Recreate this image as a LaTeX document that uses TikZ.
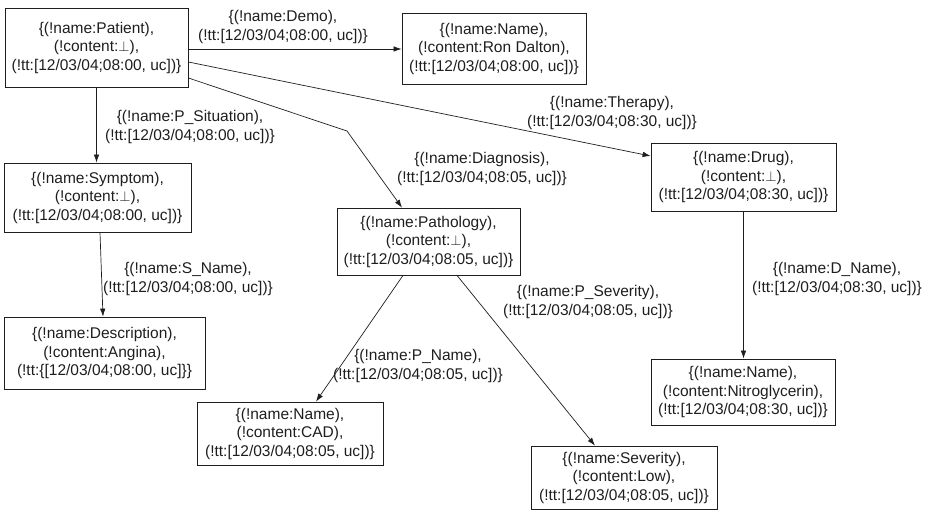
\documentclass[tikz,border=0pt]{standalone}
\usepackage{fontspec}
\setmainfont{Liberation Sans}
\usetikzlibrary{arrows.meta}
\definecolor{ink}{HTML}{1E1E1E}
\tikzset{
  box/.style={draw=ink, line width=0.8pt, align=center, inner sep=0pt, text=ink,
    font=\fontsize{15.5pt}{18.5pt}\selectfont},
  lbl/.style={align=center, inner sep=0pt, text=ink,
    font=\fontsize{15.5pt}{18.5pt}\selectfont},
  arr/.style={draw=ink, line width=0.7pt, -{Latex[length=8pt,width=5.5pt]}}
}
\begin{document}
\begin{tikzpicture}[x=1pt,y=-1pt]
\useasboundingbox (0,0) rectangle (931,511);
% nodes
\node[box, minimum width=183pt, minimum height=79pt] (pat) at (96.5,47.5)
  {\{(!name:Patient),\\(!content:$\perp$),\\(!tt:[12/03/04;08:00, uc])\}};
\node[box, minimum width=184pt, minimum height=71pt] (nm1) at (494,48.5)
  {\{(!name:Name),\\(!content:Ron Dalton),\\(!tt:[12/03/04;08:00, uc])\}};
\node[box, minimum width=185pt, minimum height=68pt] (drug) at (743.5,177)
  {\{(!name:Drug),\\(!content:$\perp$),\\(!tt:[12/03/04;08:30, uc])\}};
\node[box, minimum width=187pt, minimum height=69pt] (sym) at (97.5,197.5)
  {\{(!name:Symptom),\\(!content:$\perp$),\\(!tt:[12/03/04;08:00, uc])\}};
\node[box, minimum width=201pt, minimum height=72pt] (desc) at (104.5,353)
  {\{(!name:Description),\\(!content:Angina),\\(!tt:\{[12/03/04;08:00, uc]\}\}};
\node[box, minimum width=183pt, minimum height=67pt] (path) at (428.5,241.5)
  {\{(!name:Pathology),\\(!content:$\perp$),\\(!tt:[12/03/04;08:05, uc])\}};
\node[box, minimum width=186pt, minimum height=63pt] (cad) at (290,433.5)
  {\{(!name:Name),\\(!content:CAD),\\(!tt:[12/03/04;08:05, uc])\}};
\node[box, minimum width=186pt, minimum height=63pt] (sev) at (624,477.5)
  {\{(!name:Severity),\\(!content:Low),\\(!tt:[12/03/04;08:05, uc])\}};
\node[box, minimum width=184pt, minimum height=66pt] (nitro) at (743,392)
  {\{(!name:Name),\\(!content:Nitroglycerin),\\(!tt:[12/03/04;08:30, uc])\}};
% edges
\draw[arr] ([yshift=-1.5pt]pat.east) -- ([yshift=-1.5pt]pat.east -| nm1.west);
\draw[arr] ([yshift=-14.5pt]pat.east) -- ([yshift=21pt]drug.west);
\coordinate (bend) at (347,131);
\draw[arr] ([yshift=-30.5pt]pat.east) -- (bend) -- ([xshift=-26.5pt]path.north);
\draw[arr] (pat.south) -- (pat.south |- sym.north);
\draw[arr] ([xshift=2.5pt]sym.south) -- ([xshift=-1.5pt]desc.north);
\draw[arr] ([xshift=-25.5pt]path.south) -- ([xshift=26pt]cad.north);
\draw[arr] ([xshift=28.5pt]path.south) -- ([xshift=-29pt]sev.north);
\draw[arr] (drug.south) -- (drug.south |- nitro.north);
% labels
\node[lbl] (l1) at (283,27) {\{(!name:Demo),\\(!tt:[12/03/04;08:00, uc])\}};
\node[lbl] (l2) at (612,113) {\{(!name:Therapy),\\(!tt:[12/03/04;08:30, uc])\}};
\node[lbl] (l3) at (482,169) {\{(!name:Diagnosis),\\(!tt:[12/03/04;08:05, uc])\}};
\node[lbl] (l4) at (190,127) {\{(!name:P\_Situation),\\(!tt:[12/03/04;08:00, uc])\}};
\node[lbl] (l5) at (188,279) {\{(!name:S\_Name),\\(!tt:[12/03/04;08:00, uc])\}};
\node[lbl] (l6) at (418,366) {\{(!name:P\_Name),\\(!tt:[12/03/04;08:05, uc])\}};
\node[lbl] (l7) at (588,302) {\{(!name:P\_Severity),\\(!tt:[12/03/04;08:05, uc])\}};
\node[lbl] (l8) at (837,279) {\{(!name:D\_Name),\\(!tt:[12/03/04;08:30, uc])\}};
\end{tikzpicture}
\end{document}
